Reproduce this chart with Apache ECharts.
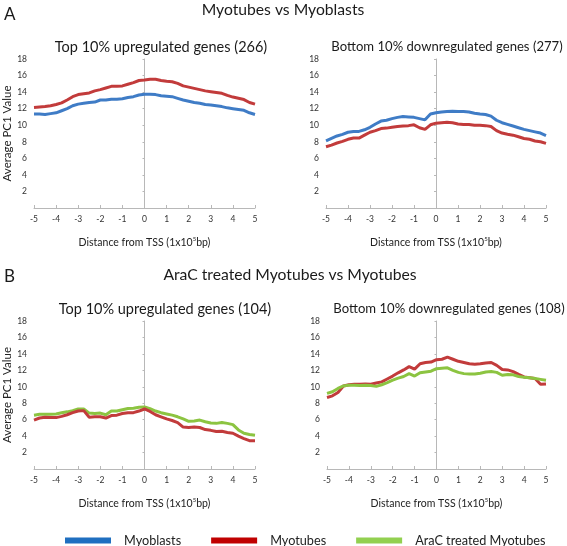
<!DOCTYPE html>
<html>
<head>
<meta charset="utf-8">
<script src="https://cdn.jsdelivr.net/npm/echarts@6/dist/echarts.min.js"></script>
<style>
html,body{margin:0;padding:0;background:#fff;}
#c{width:567px;height:546px;}
</style>
</head>
<body>
<div id="c"></div>
<script>
// Distance from TSS (x 1e5 bp), step 0.25
var xs = [-5,-4.75,-4.5,-4.25,-4,-3.75,-3.5,-3.25,-3,-2.75,-2.5,-2.25,-2,-1.75,-1.5,-1.25,-1,-0.75,-0.5,-0.25,0,0.25,0.5,0.75,1,1.25,1.5,1.75,2,2.25,2.5,2.75,3,3.25,3.5,3.75,4,4.25,4.5,4.75,5];

// Panel A-left: Top 10% upregulated genes (266)
var aUpMyotubes = [12.15,12.2,12.25,12.35,12.5,12.7,13.05,13.45,13.7,13.8,13.9,14.15,14.3,14.5,14.7,14.7,14.75,14.95,15.15,15.4,15.45,15.55,15.55,15.4,15.3,15.25,15.05,14.75,14.6,14.45,14.3,14.15,14.05,13.95,13.85,13.6,13.4,13.25,13.1,12.75,12.55];
var aUpMyoblasts = [11.35,11.35,11.3,11.4,11.5,11.75,12.0,12.35,12.55,12.65,12.75,12.8,13.05,13.05,13.15,13.15,13.2,13.35,13.45,13.65,13.75,13.75,13.7,13.55,13.5,13.45,13.25,13.05,12.9,12.75,12.65,12.5,12.45,12.35,12.25,12.1,12.0,11.9,11.8,11.5,11.3];

// Panel A-right: Bottom 10% downregulated genes (277)
var aDownMyoblasts = [8.1,8.4,8.7,8.9,9.15,9.25,9.25,9.45,9.75,10.15,10.5,10.6,10.8,10.95,11.05,11.0,10.95,10.8,10.65,11.35,11.5,11.6,11.65,11.7,11.65,11.65,11.6,11.45,11.35,11.3,11.1,10.6,10.3,10.1,9.9,9.7,9.5,9.35,9.2,9.05,8.75];
var aDownMyotubes = [7.4,7.6,7.85,8.05,8.3,8.45,8.45,8.8,9.15,9.35,9.6,9.65,9.75,9.85,9.9,9.95,10.05,9.7,9.5,10.05,10.25,10.3,10.35,10.3,10.15,10.1,10.1,10.0,10.0,9.95,9.85,9.35,9.05,8.9,8.8,8.6,8.4,8.3,8.1,8.0,7.8];

// Panel B-left: Top 10% upregulated genes (104)
var bUpAraC = [6.55,6.65,6.65,6.65,6.7,6.85,6.95,7.1,7.3,7.3,6.8,6.75,6.8,6.6,7.05,7.05,7.2,7.35,7.4,7.5,7.55,7.35,7.05,6.85,6.7,6.55,6.35,6.1,5.8,5.85,5.95,5.75,5.6,5.55,5.65,5.55,5.4,4.75,4.35,4.2,4.1];
var bUpMyotubes = [5.95,6.2,6.3,6.25,6.25,6.4,6.6,6.85,7.05,7.1,6.3,6.35,6.35,6.2,6.5,6.55,6.75,6.85,6.85,7.05,7.3,7.0,6.6,6.35,6.1,5.9,5.65,5.1,5.05,5.1,5.05,4.8,4.7,4.55,4.6,4.45,4.35,4.0,3.7,3.45,3.45];

// Panel B-right: Bottom 10% downregulated genes (108)
var bDownMyotubes = [8.7,8.9,9.3,10.1,10.25,10.3,10.3,10.35,10.3,10.45,10.6,10.95,11.3,11.7,12.05,12.45,12.15,12.8,12.95,13.0,13.3,13.35,13.6,13.35,13.1,12.95,12.8,12.75,12.8,12.9,12.95,12.6,12.1,12.05,11.85,11.5,11.2,11.1,11.0,10.3,10.35];
var bDownAraC = [9.2,9.4,9.8,10.1,10.2,10.2,10.15,10.2,10.15,10.05,10.25,10.5,10.8,11.05,11.25,11.6,11.3,11.7,11.8,11.9,12.2,12.25,12.3,12.0,11.75,11.6,11.55,11.55,11.65,11.8,11.85,11.75,11.4,11.5,11.45,11.25,11.15,11.1,11.0,10.9,10.8];

var yTicks = [2,4,6,8,10,12,14,16,18];
var xTicks = [-5,-4,-3,-2,-1,0,1,2,3,4,5];

var FONT = "Lato, 'Open Sans', sans-serif";
var C_BLUE = '#3f7cc6', C_RED = '#c23b3b', C_GREEN = '#8cc441';

function pts(arr){ return xs.map(function(x,i){ return [x, arr[i]]; }); }

var grids = [
  {left:34, top:59, width:221, height:149},
  {left:326, top:59, width:220, height:149},
  {left:34, top:321, width:221, height:148},
  {left:327, top:321, width:219, height:148}
];

var xAxes = [], yAxes = [];
grids.forEach(function(g, i){
  xAxes.push({
    type:'value', gridIndex:i, min:-5, max:5, interval:1,
    axisLine:{show:true, onZero:false, lineStyle:{color:'#b8b8b8', width:1}},
    axisTick:{show:true, inside:true, length:3, lineStyle:{color:'#b8b8b8'}},
    axisLabel:{fontSize:8.5, color:'#333', margin:7, fontFamily:FONT,
      formatter:function(v){ return xTicks.indexOf(v) >= 0 ? String(v) : ''; }},
    splitLine:{show:false},
    name:'Distance from TSS (1x10{s|5}bp)',
    nameLocation:'middle', nameGap:28,
    nameTextStyle:{fontSize:10.5, color:'#222', fontFamily:FONT,
      rich:{s:{fontSize:6, color:'#222', fontFamily:FONT, padding:[0,0,7,0]}}}
  });
  yAxes.push({
    type:'value', gridIndex:i, min:0, max:18, interval:2,
    axisLine:{show:false, onZero:false},
    axisTick:{show:false},
    axisLabel:{fontSize:8.5, color:'#333', margin:7, fontFamily:FONT,
      formatter:function(v){ return yTicks.indexOf(v) >= 0 ? String(v) : ''; }},
    splitLine:{show:false},
    name:(i % 2 === 0) ? 'Average PC1 Value' : '',
    nameLocation:'middle', nameGap:20,
    nameTextStyle:{fontSize:11.5, color:'#222', fontFamily:FONT}
  });
  yAxes.push({
    type:'value', gridIndex:i, min:0, max:18, interval:2, position:'left',
    axisLine:{show:true, onZero:true, lineStyle:{color:'#b8b8b8', width:1}},
    axisTick:{show:true, length:2, lineStyle:{color:'#b8b8b8'}},
    axisLabel:{show:false},
    splitLine:{show:false}
  });
});

function line(name, color, gi, arr){
  return {
    type:'line', name:name, xAxisIndex:gi, yAxisIndex:gi*2,
    data:pts(arr), showSymbol:false, symbol:'none',
    lineStyle:{color:color, width:3}, itemStyle:{color:color},
    animation:false, z:3
  };
}

var series = [
  line('Myotubes', C_RED, 0, aUpMyotubes),
  line('Myoblasts', C_BLUE, 0, aUpMyoblasts),
  line('Myoblasts', C_BLUE, 1, aDownMyoblasts),
  line('Myotubes', C_RED, 1, aDownMyotubes),
  line('AraC treated Myotubes', C_GREEN, 2, bUpAraC),
  line('Myotubes', C_RED, 2, bUpMyotubes),
  line('Myotubes', C_RED, 3, bDownMyotubes),
  line('AraC treated Myotubes', C_GREEN, 3, bDownAraC)
];

function txt(x, y, s, size, align){
  return {type:'text', x:x, y:y, silent:true,
    style:{text:s, font: size + 'px ' + FONT, fill:'#1a1a1a', textAlign:align || 'center', textVerticalAlign:'middle'}};
}

var chart = echarts.init(document.getElementById('c'), null, {renderer:'canvas'});
chart.setOption({
  backgroundColor:'#fff',
  animation:false,
  grid:grids,
  xAxis:xAxes,
  yAxis:yAxes,
  series:series,
  legend:{
    left:65, top:534, width:540, padding:0, itemWidth:46, itemHeight:6, itemGap:30, icon:'rect',
    textStyle:{fontSize:12.7, color:'#222', fontFamily:FONT, padding:[0,0,0,8]},
    selectedMode:false,
    data:[
      {name:'Myoblasts', itemStyle:{color:'#1f6fc0'}},
      {name:'Myotubes', itemStyle:{color:'#c00000'}},
      {name:'AraC treated Myotubes', itemStyle:{color:'#92d050'}}
    ]
  },
  graphic:[
    txt(4, 15, 'A', 17, 'left'),
    txt(283, 10, 'Myotubes vs Myoblasts', 15.7),
    txt(161, 47, 'Top 10% upregulated genes (266)', 14.5),
    txt(447, 47, 'Bottom 10% downregulated genes (277)', 13.1),
    txt(4, 277, 'B', 17, 'left'),
    txt(290, 275, 'AraC treated Myotubes vs Myotubes', 15.7),
    txt(165, 309, 'Top 10% upregulated genes (104)', 14.5),
    txt(449, 309, 'Bottom 10% downregulated genes (108)', 13.1)
  ]
});
</script>
</body>
</html>
